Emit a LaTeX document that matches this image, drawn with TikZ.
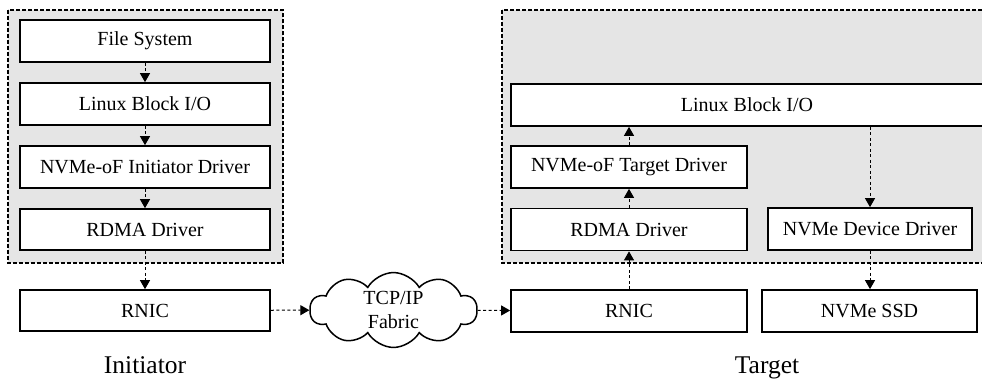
\documentclass[tikz,border=0pt]{standalone}
\usepackage{fontspec}
\setmainfont{Liberation Serif}
\usetikzlibrary{arrows.meta,shapes.symbols}
\tikzset{
  blk/.style={draw, fill=white, line width=1.7pt, minimum height=42pt, inner sep=0pt, font=\fontsize{20}{24}\selectfont},
  grp/.style={draw, fill=gray!20, line width=1.5pt, dash pattern=on 4pt off 2pt},
  flow/.style={line width=1pt, dash pattern=on 3pt off 2.5pt, -{Triangle[length=9pt,width=10pt]}},
  lbl/.style={font=\fontsize{25.5}{30}\selectfont, anchor=base}
}
\begin{document}
\begin{tikzpicture}[x=1pt,y=-1pt]
\useasboundingbox (0,0) rectangle (982,378);
% groups
\draw[grp] (8,10) rectangle (283,263);
\draw[grp] (502,10) rectangle (990,263);
% initiator stack
\node[blk, minimum width=250pt] (fs) at (145,41) {File System};
\node[blk, minimum width=250pt] (lb) at (145,104) {Linux Block I/O};
\node[blk, minimum width=250pt] (ini) at (145,167) {NVMe-oF Initiator Driver};
\node[blk, minimum width=250pt, minimum height=41pt] (rd) at (145,229.5) {RDMA Driver};
\node[blk, minimum width=250pt, minimum height=41pt] (rnic) at (145,310.5) {RNIC};
% cloud
\node[cloud, draw, line width=1.5pt, fill=white, cloud puffs=10, cloud puff arc=120, aspect=2.6,
      minimum width=167pt, minimum height=64pt, inner sep=0pt, align=center,
      font=\fontsize{20}{24}\selectfont] (cl) at (393.5,310) {TCP/IP\\Fabric};
% target stack
\node[blk, minimum width=472pt] (tlb) at (747,105) {Linux Block I/O};
\node[blk, minimum width=236pt] (tgt) at (629,167) {NVMe-oF Target Driver};
\node[blk, minimum width=236pt] (trd) at (629,229.5) {RDMA Driver};
\node[blk, minimum width=204pt] (ndd) at (870,229) {NVMe Device Driver};
\node[blk, minimum width=236pt] (trnic) at (629,311) {RNIC};
\node[blk, minimum width=215pt] (ssd) at (869.5,311) {NVMe SSD};
% labels
\node[lbl] (li) at (145,373) {Initiator};
\node[lbl] (lt) at (767,373) {Target};
% flows
\draw[flow] (fs) -- (lb);
\draw[flow] (lb) -- (ini);
\draw[flow] (ini) -- (rd);
\draw[flow] (rd) -- (rnic);
\draw[flow] (rnic) -- (cl);
\draw[flow] (cl) -- (trnic);
\draw[flow] (trnic) -- (trd);
\draw[flow] (trd) -- (tgt);
\draw[flow] (tgt) -- (tgt |- tlb.south);
\draw[flow] (ndd.north |- tlb.south) -- (ndd);
\draw[flow] (ndd) -- (ndd |- ssd.north);
\end{tikzpicture}
\end{document}
